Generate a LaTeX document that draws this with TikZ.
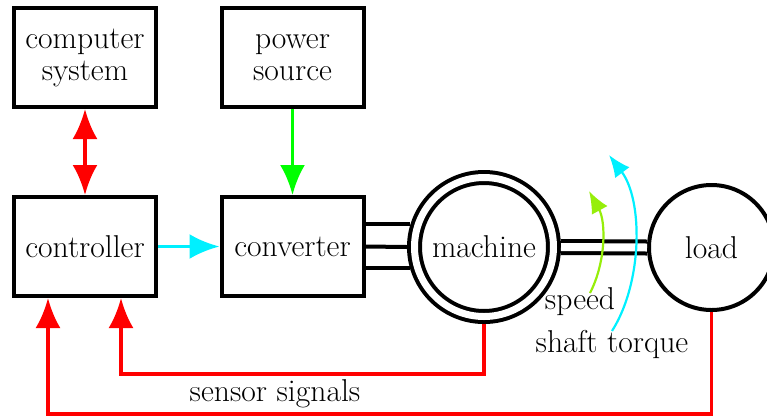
\documentclass[tikz,border=0pt]{standalone}
\usetikzlibrary{arrows.meta}
\definecolor{speedcol}{RGB}{150,238,10}
\definecolor{cyn}{RGB}{0,240,255}
\begin{document}
\begin{tikzpicture}[x=0.5pt,y=-0.5pt,
  every node/.style={font=\fontsize{15.8}{16}\selectfont},
  blk/.style={draw, line width=2pt, minimum width=71pt, minimum height=49.5pt, inner sep=0pt, align=center},
  bigtip/.style={-{Latex[length=15pt,width=12.5pt]}},
  sig/.style={line width=1.8pt},
  arc/.style={line width=1.1pt, -{Latex[length=11pt,width=9pt]}},
  blackline/.style={line width=2pt}]
\useasboundingbox (0,0) rectangle (767,419);
\node[blk] (comp) at (85,57.5) {computer\\system};
\node[blk] (pow) at (292.5,57.5) {power\\source};
\node[blk] (ctrl) at (85,246.5) {controller};
\node[blk] (conv) at (292.5,246.5) {converter};
\node[circle, draw, line width=2pt, double, double distance=3.5pt, minimum size=69.5pt, inner sep=0pt, outer sep=3.75pt] (mach) at (484,247) {machine};
\node[circle, draw, line width=2pt, minimum size=62.5pt, inner sep=0pt] (load) at (711.5,247.5) {load};
% arrows
\draw[sig, red, {Latex[length=15pt,width=12.5pt]}-{Latex[length=15pt,width=12.5pt]}] (comp.south) -- (ctrl.north);
\draw[sig, green, bigtip] (pow.south) -- (conv.north);
\draw[sig, cyn, bigtip] (ctrl.east) -- (conv.west);
% converter to machine
\draw[blackline] (mach.163.4 -| conv.east) -- (mach.163.4);
\draw[blackline] (conv.east) -- (mach.180);
\draw[blackline] (mach.196.6 -| conv.east) -- (mach.196.6);
% shaft
\draw[line width=2pt, double, double distance=4pt] (mach.east) -- (load.west);
% speed and torque
\coordinate (sp0) at (590,293);
\coordinate (sp1) at (589,191);
\coordinate (tq0) at (612,331);
\coordinate (tq1) at (609,155);
\draw[arc, speedcol] (sp0) .. controls (606,262) and (606,222) .. (sp1);
\draw[arc, cyn] (tq0) .. controls (643,282) and (643,200) .. (tq1);
\node (speed) at (580,302) {speed};
\node (torque) at (612,344) {shaft torque};
% sensor signals
\coordinate (c1) at (484,374);
\coordinate (c2) at (121,374);
\coordinate (d1) at (711.5,414);
\coordinate (d2) at (48,414);
\draw[sig, red, bigtip] (mach.south) -- (c1) -- (c2) -- (c2 |- ctrl.south);
\draw[sig, red, bigtip] (load.south) -- (d1) -- (d2) -- (d2 |- ctrl.south);
\node (sens) at (275,394) {sensor signals};
\end{tikzpicture}
\end{document}
